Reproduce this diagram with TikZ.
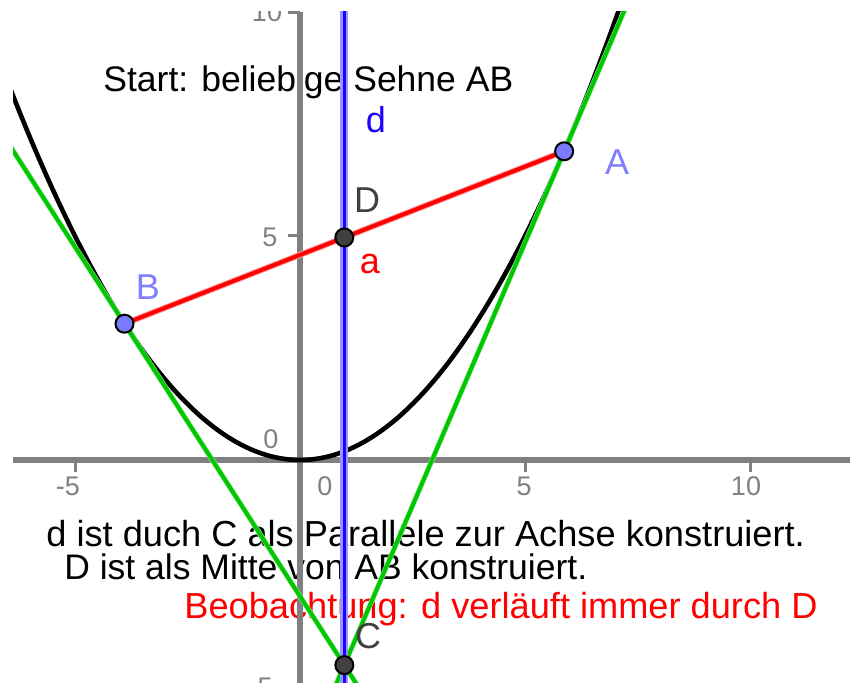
\documentclass[tikz,border=0pt]{standalone}
\usepackage{fontspec}
\setmainfont{Liberation Sans}
\definecolor{axisgray}{RGB}{128,128,128}
\definecolor{ptblue}{RGB}{122,122,255}
\definecolor{lblblue}{RGB}{128,128,255}
\definecolor{ptdark}{RGB}{64,64,64}
\definecolor{geogreen}{RGB}{0,200,0}
\definecolor{lightgreen}{RGB}{150,230,150}
\definecolor{lightblue}{RGB}{150,150,255}
\definecolor{lightred}{RGB}{255,150,150}
\definecolor{dblue}{RGB}{32,0,255}
\begin{document}
\begin{tikzpicture}[x=0.5pt,y=-0.5pt,
  txt/.style={font=\fontsize{18.1}{21}\selectfont, inner sep=0pt, anchor=base west},
  txtsm/.style={font=\fontsize{17.75}{21}\selectfont, inner sep=0pt, anchor=base west},
  ptlabel/.style={font=\fontsize{18}{21}\selectfont, inner sep=0pt, anchor=base},
  axlabel/.style={font=\fontsize{13.5}{16}\selectfont, text=axisgray, inner sep=0pt, anchor=base},
  axisline/.style={draw=axisgray, line width=2.6pt},
  tickmark/.style={draw=axisgray, line width=1.5pt},
  ptA/.style={circle, fill=ptblue, draw=black, line width=1pt, minimum size=9pt, inner sep=0pt},
  ptC/.style={circle, fill=ptdark, draw=black, line width=1pt, minimum size=9pt, inner sep=0pt},
  curve/.style={draw=black, line width=2.3pt},
  tangentline/.style={draw=geogreen, line width=2pt},
]
\useasboundingbox (0,0) rectangle (850,683);
\fill[white] (0,0) rectangle (850,683);
\begin{scope}
\clip (13,12) rectangle (850,683);
% texts (drawn below the lines)
\node[txtsm] (t0) at (103,91.5) {Start: beliebige Sehne AB};
\node[txt] (t1) at (46,546) {d ist duch C als Parallele zur Achse konstruiert.};
\node[txtsm] (t2) at (64,579) {D ist als Mitte von AB konstruiert.};
\node[txt, text=red] (t3) at (184,618) {Beobachtung: d verläuft immer durch D};
% axes
\coordinate (xl) at (13,460); \coordinate (xr) at (850,460);
\coordinate (yt) at (300,12); \coordinate (yb) at (300,683);
\draw[axisline] (xl) -- (xr);
\draw[axisline] (yt) -- (yb);
\foreach \tx in {75,525,750} \draw[tickmark] (\tx,460) -- (\tx,472);
\foreach \ty in {13,236} \draw[tickmark] (300,\ty) -- (288,\ty);
% axis labels
\node[axlabel] (lxm5) at (68,495) {-5};
\node[axlabel] (lx0) at (325,495) {0};
\node[axlabel] (lx5) at (524,495) {5};
\node[axlabel] (lx10) at (746,495) {10};
\node[axlabel] (ly10) at (267,22) {10};
\node[axlabel] (ly5) at (270,247) {5};
\node[axlabel] (ly0) at (271,449) {0};
\node[axlabel, anchor=base east] (lym5) at (273,696) {-5};
% construction in math coordinates
\begin{scope}[shift={(150pt,-230pt)}, x={(22.5pt,0pt)}, y={(0pt,22.4pt)}]
\pgfmathsetmacro\xa{5.87}
\pgfmathsetmacro\xb{-3.9}
\pgfmathsetmacro\ya{0.2*\xa*\xa}
\pgfmathsetmacro\yb{0.2*\xb*\xb}
\pgfmathsetmacro\xm{(\xa+\xb)/2}
\pgfmathsetmacro\ym{(\ya+\yb)/2}
\pgfmathsetmacro\yc{0.2*\xa*\xb}
\pgfmathsetmacro\ma{0.4*\xa}
\pgfmathsetmacro\mb{0.4*\xb}
\pgfmathsetmacro\tlA{\yb+\mb*(-9-\xb)}
\pgfmathsetmacro\tlB{\yb+\mb*(3-\xb)}
\pgfmathsetmacro\trA{\ya+\ma*(-1-\xa)}
\pgfmathsetmacro\trB{\ya+\ma*(9-\xa)}
\coordinate (A) at (\xa,\ya);
\coordinate (B) at (\xb,\yb);
\coordinate (D) at (\xm,\ym);
\coordinate (C) at (\xm,\yc);
\coordinate (dtop) at (\xm,11);
\coordinate (dbot) at (\xm,-6);
\coordinate (tl1) at (-9,\tlA);
\coordinate (tl2) at (3,\tlB);
\coordinate (tr1) at (-1,\trA);
\coordinate (tr2) at (9,\trB);
\draw[curve] plot[domain=-7.5:7.5, samples=150, smooth] (\x,{0.2*\x*\x});
\draw[lightgreen, line width=2.6pt] (tl1) -- (tl2);
\draw[lightgreen, line width=2.6pt] (tr1) -- (tr2);
\draw[tangentline] (tl1) -- (tl2);
\draw[tangentline] (tr1) -- (tr2);
\draw[lightred, line width=3pt] (B) -- (A);
\draw[red, line width=2pt] (B) -- (A);
\draw[lightblue, line width=4pt] (dtop) -- (dbot);
\draw[dblue, line width=1.7pt] (dtop) -- (dbot);
\node[ptA] (pA) at (A) {};
\node[ptA] (pB) at (B) {};
\node[ptC] (pD) at (D) {};
\node[ptC] (pC) at (C) {};
\end{scope}
% point and object labels
\node[ptlabel, text=lblblue] (lA) at (617,175) {A};
\node[ptlabel, text=lblblue] (lB) at (148,300) {B};
\node[ptlabel, text=ptdark] (lC) at (368,648) {C};
\node[ptlabel, text=ptdark] (lD) at (367,213) {D};
\node[ptlabel, text=red] (la) at (370,274) {a};
\node[ptlabel, text=dblue] (ld) at (376,133) {d};
\end{scope}
\end{tikzpicture}
\end{document}
